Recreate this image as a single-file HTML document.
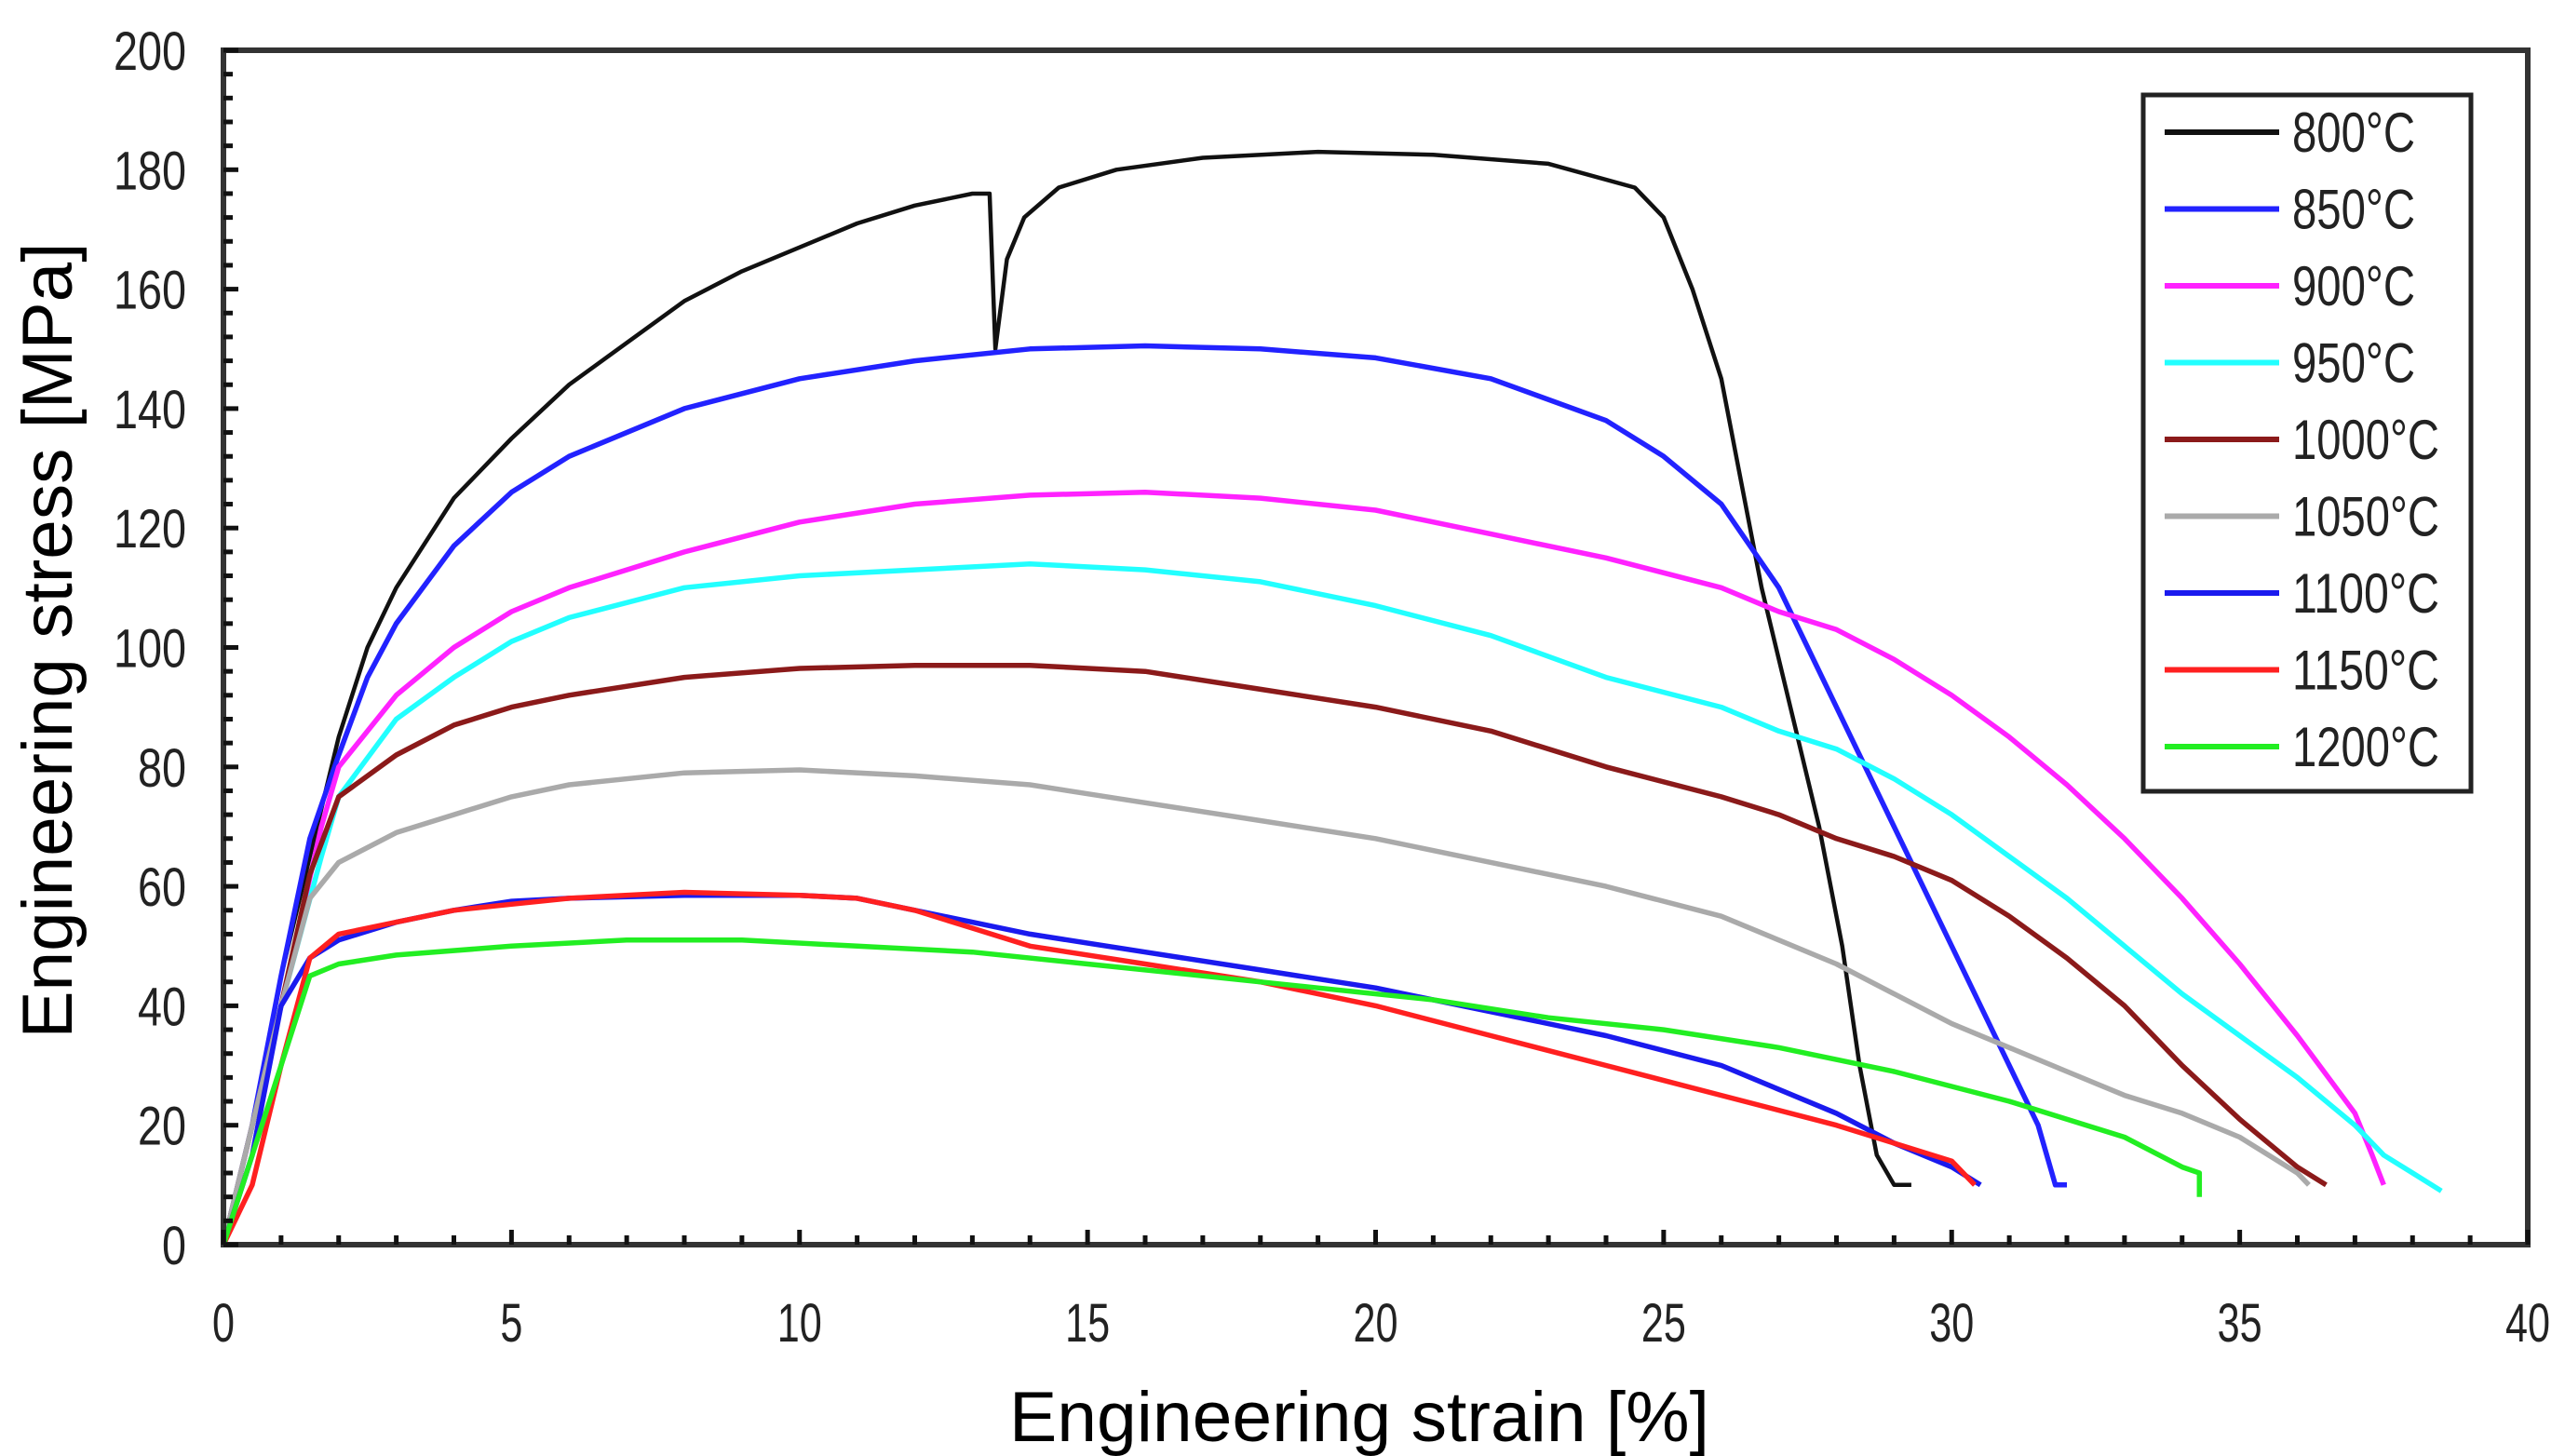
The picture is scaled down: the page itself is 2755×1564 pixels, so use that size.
<!DOCTYPE html>
<html><head><meta charset="utf-8"><style>
html,body{margin:0;padding:0;background:#fff}
svg{display:block}
text{font-family:"Liberation Sans",sans-serif;fill:#222}
</style></head><body>
<svg id="chart" width="2755" height="1564" viewBox="0 0 2755 1564" xmlns="http://www.w3.org/2000/svg">
<rect x="0" y="0" width="2755" height="1564" fill="#fff"/>
<g id="series"></g>
<g id="axes"></g>
<g id="legend"></g>
<text x="1460" y="1548" font-size="76" text-anchor="middle" textLength="752" lengthAdjust="spacingAndGlyphs" style="fill:#000">Engineering strain [%]</text>
<text transform="translate(77,688) rotate(-90)" font-size="76" text-anchor="middle" textLength="855" lengthAdjust="spacingAndGlyphs" style="fill:#000">Engineering stress [MPa]</text>
</svg>
<script>
const xTicks=[0,5,10,15,20,25,30,35,40];
const yTicks=[0,20,40,60,80,100,120,140,160,180,200];
const seriesNames=["800°C","850°C","900°C","950°C","1000°C","1050°C","1100°C","1150°C","1200°C"];
const seriesColors=["#111111","#2222ff","#ff22ff","#22ffff","#8b1a1a","#aaaaaa","#1a1aee","#ff2020","#22ee22"];
const s800=[[0,0],[0.5,20],[1,45],[1.5,65],[2,85],[2.5,100],[3,110],[4,125],[5,135],[6,144],[7,151],[8,158],[9,163],[10,167],[11,171],[12,174],[13,176],[13.3,176],[13.4,150],[13.6,165],[13.9,172],[14.5,177],[15.5,180],[17,182],[19,183],[21,182.5],[23,181],[24.5,177],[25,172],[25.5,160],[26,145],[26.3,130],[26.7,110],[27.2,90],[27.7,70],[28.1,50],[28.4,30],[28.7,15],[29,10],[29.3,10]];
const s850=[[0,0],[0.5,20],[1,45],[1.5,68],[2,82],[2.5,95],[3,104],[4,117],[5,126],[6,132],[8,140],[10,145],[12,148],[14,150],[16,150.5],[18,150],[20,148.5],[22,145],[24,138],[25,132],[26,124],[27,110],[27.5,100],[28,90],[29,70],[30,50],[31,30],[31.5,20],[31.8,10],[32,10]];
const s900=[[0,0],[1,40],[1.7,70],[2,80],[3,92],[4,100],[5,106],[6,110],[8,116],[10,121],[12,124],[14,125.5],[16,126],[18,125],[20,123],[22,119],[24,115],[26,110],[27,106],[28,103],[29,98],[30,92],[31,85],[32,77],[33,68],[34,58],[35,47],[36,35],[37,22],[37.3,15],[37.5,10]];
const s950=[[0,0],[1,40],[1.7,65],[2,75],[3,88],[4,95],[5,101],[6,105],[8,110],[10,112],[12,113],[14,114],[16,113],[18,111],[20,107],[22,102],[24,95],[26,90],[27,86],[28,83],[29,78],[30,72],[31,65],[32,58],[33,50],[34,42],[35,35],[36,28],[37,20],[37.5,15],[38,12],[38.5,9]];
const s1000=[[0,0],[1,40],[1.5,62],[2,75],[3,82],[4,87],[5,90],[6,92],[8,95],[10,96.5],[12,97],[14,97],[16,96],[18,93],[20,90],[22,86],[24,80],[26,75],[27,72],[28,68],[29,65],[30,61],[31,55],[32,48],[33,40],[34,30],[35,21],[36,13],[36.5,10]];
const s1050=[[0,0],[1,40],[1.5,58],[2,64],[3,69],[4,72],[5,75],[6,77],[8,79],[10,79.5],[12,78.5],[14,77],[16,74],[18,71],[20,68],[22,64],[24,60],[26,55],[27,51],[28,47],[29,42],[30,37],[31,33],[32,29],[33,25],[34,22],[35,18],[36,12],[36.2,10]];
const s1100=[[0,0],[0.5,15],[1,40],[1.5,48],[2,51],[3,54],[4,56],[5,57.5],[6,58],[8,58.5],[10,58.5],[11,58],[12,56],[13,54],[14,52],[16,49],[18,46],[20,43],[22,39],[24,35],[26,30],[28,22],[29,17],[30,13],[30.5,10]];
const s1150=[[0,0],[0.5,10],[1,30],[1.5,48],[2,52],[3,54],[4,56],[5,57],[6,58],[8,59],[10,58.5],[11,58],[12,56],[13,53],[14,50],[16,47],[18,44],[20,40],[22,35],[24,30],[26,25],[28,20],[30,14],[30.4,10]];
const s1200=[[0,0],[1,30],[1.5,45],[2,47],[3,48.5],[5,50],[7,51],[9,51],[11,50],[13,49],[15,47],[17,45],[19,43],[21,41],[23,38],[25,36],[27,33],[29,29],[31,24],[32,21],[33,18],[34,13],[34.3,12],[34.3,8]];
const allSeries=[s800,s850,s900,s950,s1000,s1050,s1100,s1150,s1200];

const NS="http://www.w3.org/2000/svg";
const L=240,R=2715,T=54,B=1337;
function xs(v){return L+(v-0)/(40-0)*(R-L);}
function ys(v){return B-(v-0)/(200-0)*(B-T);}
function mk(tag,attrs,parent){const e=document.createElementNS(NS,tag);for(const k in attrs)e.setAttribute(k,attrs[k]);parent.appendChild(e);return e;}

const sg=document.getElementById('series');
allSeries.forEach((s,i)=>{
  const d=s.map((p,j)=>(j?'L':'M')+xs(p[0]).toFixed(1)+','+ys(p[1]).toFixed(1)).join(' ');
  const p=mk('path',{d:d,fill:'none',stroke:seriesColors[i],'stroke-width':(i===0?4.5:5.5),'stroke-linejoin':'round'},sg);
  
  
});

const ag=document.getElementById('axes');
const frame=mk('rect',{x:L,y:T,width:R-L,height:B-T,fill:'none',stroke:'#333','stroke-width':6},ag);


for(let v=0;v<=40;v+=1){
  const major=v%5===0;
  const t=mk('line',{x1:xs(v),x2:xs(v),y1:B,y2:B-(major?16:10),stroke:'#111','stroke-width':5},ag);
  
  
}
for(let v=0;v<=200;v+=4){
  const major=v%20===0;
  const t=mk('line',{x1:L,x2:L+(major?16:10),y1:ys(v),y2:ys(v),stroke:'#111','stroke-width':5},ag);
  
  
}
xTicks.forEach(v=>{
  const t=mk('text',{x:xs(v),y:1441,'font-size':58,'text-anchor':'middle',textLength:(String(v).length*24),lengthAdjust:'spacingAndGlyphs'},ag);
  t.textContent=String(v);
  
  
});
yTicks.forEach(v=>{
  const t=mk('text',{x:200,y:ys(v)+21,'font-size':58,'text-anchor':'end',textLength:(String(v).length*26),lengthAdjust:'spacingAndGlyphs'},ag);
  t.textContent=String(v);
  
  
});

const lg=document.getElementById('legend');
const box=mk('rect',{x:2302,y:102,width:352,height:748,fill:'#fff',stroke:'#222','stroke-width':5},lg);


seriesNames.forEach((n,i)=>{
  const y=142+i*82.5;
  const ln=mk('line',{x1:2325,x2:2448,y1:y,y2:y,stroke:seriesColors[i],'stroke-width':6},lg);
  
  
  const t=mk('text',{x:2462,y:y+21,'font-size':60,textLength:(n.length===5?132:158),lengthAdjust:'spacingAndGlyphs'},lg);
  t.textContent=n;
  
  
});
</script>
</body></html>
